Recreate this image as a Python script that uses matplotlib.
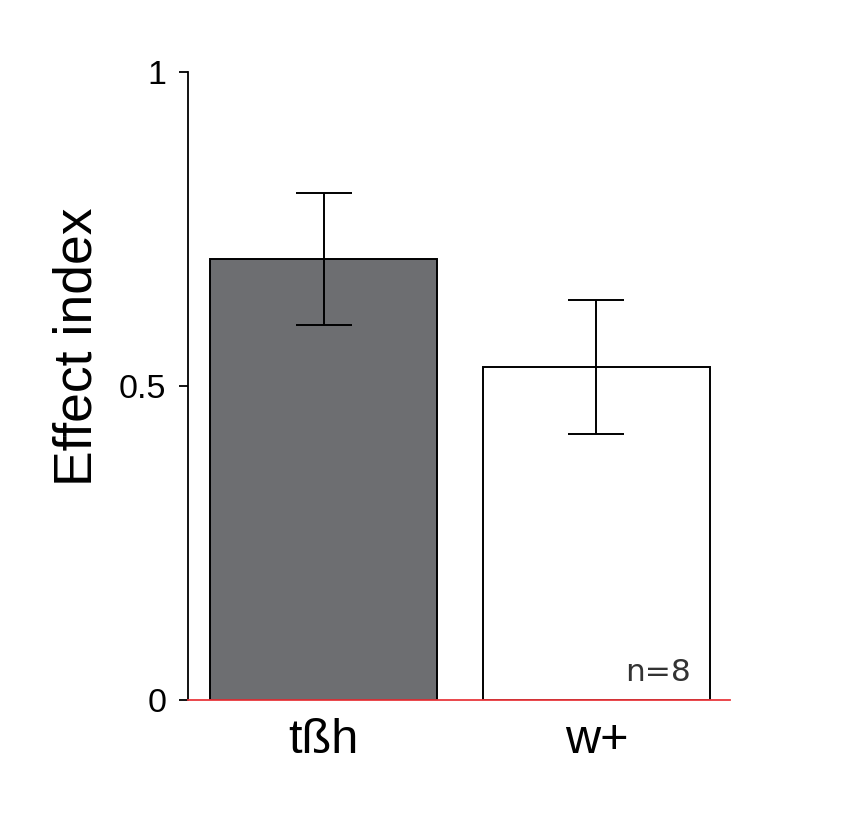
import matplotlib
matplotlib.use("Agg")
import matplotlib.pyplot as plt

categories = ["tßh", "w+"]
values = [0.702, 0.530]
errors = [0.105, 0.107]
bar_colors = ["#6d6e71", "#ffffff"]
yticks = [0, 0.5, 1]
yticklabels = ["0", "0.5", "1"]

plt.rcParams['font.family'] = ['Liberation Sans', 'DejaVu Sans']

fig = plt.figure(figsize=(8.42, 8.38), dpi=100)
ax = fig.add_axes([188/842, 138/838, (730-188)/842, (700-72)/838])

x = list(range(len(categories)))
ax.bar(x, values, width=0.833, color=bar_colors, edgecolor="black", linewidth=1.4, zorder=2)
ax.errorbar(x, values, yerr=errors, fmt="none", ecolor="black", elinewidth=1.4,
            capsize=20.5, capthick=1.4, zorder=3)

ax.set_xlim(-0.497, 1.49)
ax.set_ylim(0, 1)
ax.set_xticks(x)
ax.set_xticklabels(categories, fontsize=35)
ax.tick_params(axis="x", length=0, pad=13)
ax.set_yticks(yticks)
ax.set_yticklabels(yticklabels, fontsize=24.5)
ax.tick_params(axis="y", length=6.5, width=1.3, direction="out", pad=9)

ax.spines["top"].set_visible(False)
ax.spines["right"].set_visible(False)
ax.spines["left"].set_linewidth(1.3)
ax.spines["bottom"].set_color("#e8383d")
ax.spines["bottom"].set_linewidth(1.3)
ax.spines["bottom"].set_zorder(4)

ax.set_ylabel("Effect index", fontsize=38.5)
ax.yaxis.set_label_coords((102 - 188) / (730 - 188), (700 - 347) / 628)

ax.text(1.0 + (690-596)/272.5, 0.02, "n=8", fontsize=22.5, family="DejaVu Sans",
        color="#333333", ha="right", va="bottom", zorder=4)

fig.savefig("out.png", dpi=100)
